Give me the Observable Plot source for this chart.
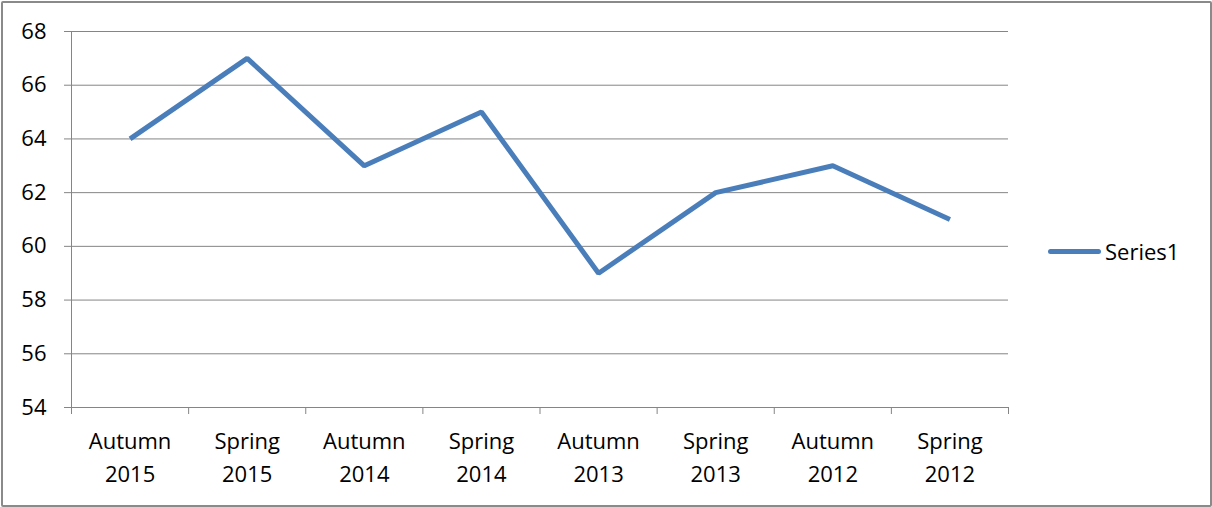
<!DOCTYPE html>
<html>
<head>
<meta charset="utf-8">
<script src="https://cdn.jsdelivr.net/npm/d3@7"></script>
<script src="https://cdn.jsdelivr.net/npm/@observablehq/plot@0.6"></script>
<style>
  html, body { margin: 0; padding: 0; background: #fff; }
  #chart { position: relative; width: 1212px; height: 507px; font-family: "Open Sans", sans-serif; }
  #frame { position: absolute; left: 1px; top: 1px; width: 1207px; height: 502px; border: 2px solid #8a8a8a; border-radius: 2px; pointer-events: none; }
  #legend { position: absolute; left: 1048px; top: 236px; display: flex; align-items: center; font-size: 22px; color: #000; }
  #legend .swatch { width: 53px; height: 5px; border-radius: 3px; background: #4a7ebb; margin-right: 4px; }
</style>
</head>
<body>
<div id="chart"><div id="frame"></div></div>
<script>
const categories = ["Autumn 2015", "Spring 2015", "Autumn 2014", "Spring 2014", "Autumn 2013", "Spring 2013", "Autumn 2012", "Spring 2012"];
const values = [64, 67, 63, 65, 59, 62, 63, 61];
const yTicks = [54, 56, 58, 60, 62, 64, 66, 68];
const seriesName = "Series1";

const data = categories.map((c, i) => ({i, category: c, value: values[i]}));
const edges = d3.range(categories.length + 1).map(i => i - 0.5);
const gridColor = "#858585";

const plot = Plot.plot({
  width: 1212,
  height: 507,
  marginLeft: 71,
  marginRight: 204,
  marginTop: 31,
  marginBottom: 100,
  style: {fontFamily: "'Open Sans', sans-serif", fontSize: "22px", color: "#000", background: "transparent"},
  x: {type: "linear", domain: [-0.5, categories.length - 0.5]},
  y: {domain: [54, 68]},
  marks: [
    Plot.ruleY(yTicks, {stroke: gridColor, strokeWidth: 1, strokeOpacity: 1}),
    Plot.ruleX([-0.5], {y1: 54, y2: 68, stroke: gridColor, strokeWidth: 1}),
    Plot.axisY({ticks: yTicks, tickSize: 7, tickPadding: 18, stroke: gridColor, strokeOpacity: 1, label: null, fontSize: 22, fill: "#000"}),
    Plot.axisX({ticks: edges, tickSize: 7, tickFormat: () => "", stroke: gridColor, strokeOpacity: 1, label: null}),
    Plot.axisX({ticks: d3.range(categories.length), tickSize: 0, tickPadding: 18, tickFormat: i => categories[i].replace(" ", "\n"), lineHeight: 1.5, label: null, fontSize: 22, fill: "#000"}),
    Plot.line(data, {x: "i", y: "value", stroke: "#4a7ebb", strokeWidth: 5, strokeLinejoin: "miter", strokeLinecap: "butt"})
  ]
});
plot.style.position = "absolute";
plot.style.left = "0px";
plot.style.top = "0px";
const chart = document.getElementById("chart");
chart.insertBefore(plot, chart.firstChild);

const legend = document.createElement("div");
legend.id = "legend";
legend.innerHTML = `<span class="swatch"></span><span>${seriesName}</span>`;
chart.appendChild(legend);
</script>
</body>
</html>
